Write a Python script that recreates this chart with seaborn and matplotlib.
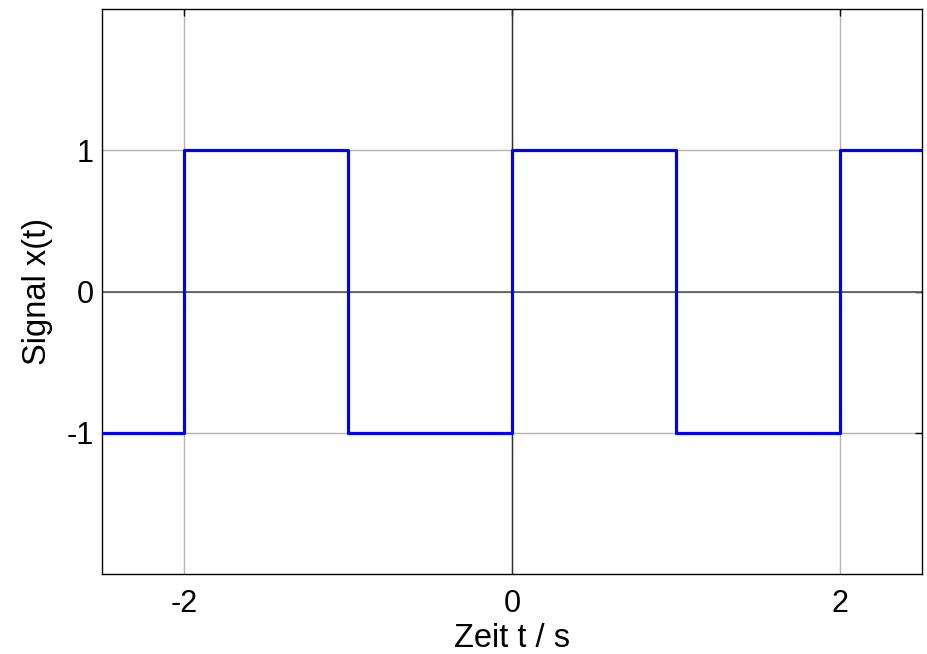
import matplotlib
matplotlib.use("Agg")
import matplotlib.pyplot as plt
import seaborn as sns
import pandas as pd

t = [-2.5, -2, -1, 0, 1, 2, 2.5]
x = [-1, 1, -1, 1, -1, 1, 1]
xticks = [-2, 0, 2]
yticks = [-1, 0, 1]

sns.set_style("white")
plt.rcParams['font.family'] = ['Liberation Sans', 'DejaVu Sans']

fig = plt.figure(figsize=(9.28, 6.54), dpi=100)
ax = fig.add_axes([102/928, 1 - 574/654, 820/928, 565/654])

ax.set_xlim(-2.5, 2.5)
ax.set_ylim(-2, 2)
ax.set_xticks(xticks)
ax.set_yticks(yticks)
ax.set_xticklabels([str(v) for v in xticks])
ax.set_yticklabels([str(v) for v in yticks])
ax.grid(True, color='#b4b4b4', linewidth=1.0)
ax.axhline(0, color='#606060', linewidth=1.3, zorder=1.5)
ax.axvline(0, color='#303030', linewidth=1.0, zorder=1.5)

df = pd.DataFrame({"t": t, "x": x})
sns.lineplot(data=df, x="t", y="x", ax=ax, color='#0000ff', linewidth=2.3,
             drawstyle='steps-post', zorder=3)

for s in ax.spines.values():
    s.set_visible(True)
    s.set_color('black')
    s.set_linewidth(1.0)

ax.tick_params(direction='in', length=5, width=1, top=True, right=True,
               labelsize=22, colors='black')
ax.tick_params(axis='x', pad=11)
ax.tick_params(axis='y', pad=6)
ax.set_xlabel("Zeit t / s", fontsize=23.5, labelpad=3, color='black')
ax.set_ylabel("Signal x(t)", fontsize=23.5, labelpad=10, color='black')

fig.savefig("out.png", dpi=100)
